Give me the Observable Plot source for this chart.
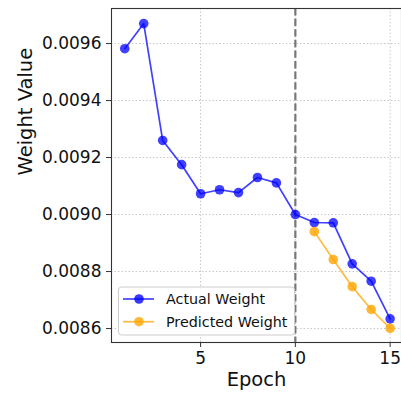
<!DOCTYPE html>
<html><head><meta charset="utf-8">
<script src="https://cdn.jsdelivr.net/npm/d3@7"></script>
<script src="https://cdn.jsdelivr.net/npm/@observablehq/plot@0.6"></script>
<style>body{margin:0;background:#fff}</style>
</head><body><div id="chart"></div>
<script>
const epochs = [1,2,3,4,5,6,7,8,9,10,11,12,13,14,15];
const actual = [0.009582,0.00967,0.00926,0.009175,0.009073,0.009087,0.009077,0.00913,0.009111,0.009,0.008972,0.008971,0.008827,0.008766,0.008634];
const predEpochs = [11,12,13,14,15];
const predicted = [0.00894,0.008842,0.008747,0.008667,0.008601];
const yTicks = [0.0086,0.0088,0.0090,0.0092,0.0094,0.0096];
const xTicks = [5,10,15];
const splitEpoch = [10];
const seriesNames = ["Actual Weight","Predicted Weight"];
const seriesColors = ["#0000ff","#ffa500"];

const actualData = epochs.map((e,i)=>({epoch:e, value:actual[i]}));
const predData = predEpochs.map((e,i)=>({epoch:e, value:predicted[i]}));

const font = "DejaVu Sans, sans-serif";
const chart = Plot.plot({
  width: 401, height: 396,
  marginLeft: 111, marginRight: 0, marginTop: 8, marginBottom: 54,
  style: {fontFamily: font, fontSize: "17px", color: "#111", background: "#fff"},
  x: {domain: [0.3, 15.6]},
  y: {domain: [0.008551, 0.009723]},
  marks: [
    Plot.gridX(xTicks, {stroke: "#b0b0b0", strokeOpacity: 0.9, strokeDasharray: "1.5,2", strokeWidth: 0.8}),
    Plot.gridY(yTicks, {stroke: "#b0b0b0", strokeOpacity: 0.9, strokeDasharray: "1.5,2", strokeWidth: 0.8}),
    Plot.axisX(xTicks, {tickSize: 5, tickPadding: 4, label: null, fontSize: 17, stroke: "#333"}),
    Plot.axisY(yTicks, {tickSize: 5, tickPadding: 5, label: null, fontSize: 17, tickFormat: d => d.toFixed(4), stroke: "#333"}),
    Plot.ruleX(splitEpoch, {stroke: "#777", strokeWidth: 2.2, strokeDasharray: "7.4,3.2"}),
    Plot.line(actualData, {x: "epoch", y: "value", stroke: seriesColors[0], strokeWidth: 1.7, strokeOpacity: 0.75}),
    Plot.dot(actualData, {x: "epoch", y: "value", r: 4.8, fill: seriesColors[0], fillOpacity: 0.75}),
    Plot.line(predData, {x: "epoch", y: "value", stroke: seriesColors[1], strokeWidth: 1.7, strokeOpacity: 0.75}),
    Plot.dot(predData, {x: "epoch", y: "value", r: 4.8, fill: seriesColors[1], fillOpacity: 0.8}),
    Plot.frame({stroke: "#333", strokeWidth: 1.1}),
    Plot.text(["Epoch"], {frameAnchor: "bottom", dy: 43, fontSize: 19.5, fill: "#111"}),
    Plot.text(["Weight Value"], {frameAnchor: "left", dx: -86, rotate: -90, fontSize: 19.5, fill: "#111"})
  ]
});
document.getElementById("chart").appendChild(chart);

// legend inside plot area (lower left)
const svg = d3.select(chart);
const lg = svg.append("g").attr("font-family", font).attr("font-size", 14.3).attr("text-anchor", "start");
lg.append("rect").attr("x", 118.5).attr("y", 287).attr("width", 176).attr("height", 48)
  .attr("rx", 3).style("fill", "#ffffff").style("fill-opacity", 0.85)
  .style("stroke", "#cccccc").style("stroke-width", 1);
seriesNames.forEach((name, i) => {
  const y = 299 + i * 22.7;
  lg.append("line").attr("x1", 123).attr("x2", 154).attr("y1", y).attr("y2", y)
    .style("stroke", seriesColors[i]).style("stroke-width", 1.7).style("stroke-opacity", 0.75);
  lg.append("circle").attr("cx", 139).attr("cy", y).attr("r", 4.8)
    .style("fill", seriesColors[i]).style("fill-opacity", 0.78);
  lg.append("text").attr("x", 166).attr("y", y).attr("dy", "0.35em")
    .attr("text-anchor", "start").style("fill", "#111").text(name);
});
</script></body></html>
